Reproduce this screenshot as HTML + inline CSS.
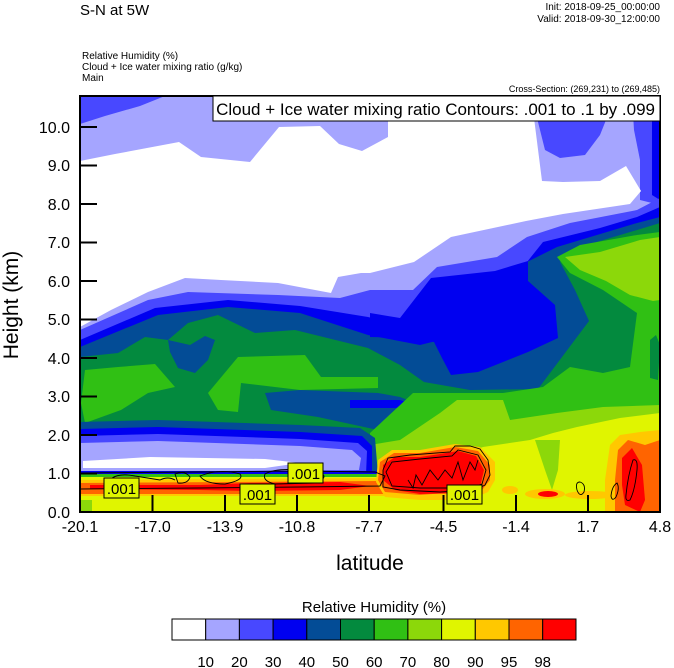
<!DOCTYPE html>
<html><head><meta charset="utf-8"><style>
html,body{margin:0;padding:0;background:#fff}
svg{display:block}
text{font-family:"Liberation Sans",Arial,sans-serif;fill:#000}
</style></head><body>
<svg width="674" height="668" viewBox="0 0 674 668" xmlns="http://www.w3.org/2000/svg">
<defs><clipPath id="pc"><rect x="80" y="96" width="580" height="416"/></clipPath></defs>
<g clip-path="url(#pc)">
<rect x="80" y="96" width="580" height="416" fill="#a5a5ff"/>
<!-- top blue patches -->
<polygon fill="#4848ff" points="80,96 165,96 140,106 105,116 80,124"/>
<polygon fill="#4848ff" points="535,110 610,110 600,135 585,155 560,158 545,150"/>
<polygon fill="#4848ff" points="632,96 660,96 660,205 640,200 640,160 634,130"/>
<polygon fill="#0000f0" points="652,96 660,96 660,200 652,195"/>
<!-- white -->
<polygon fill="#ffffff" points="80,161 115,154 179,142 201,157 250,162 279,127 320,126 339,144 362,151 388,137 388,110 533,110 542,181 563,182 600,181 626,166 641,191 630,204 563,214 526,221 451,237 414,262 370,273 361,273 338,277 331,293 278,283 221,280 185,278 148,292 111,310 80,327"/>
<!-- bands below curves -->
<polygon fill="#4848ff" points="80,330 148,300 188,292 278,295 340,298 370,290 413,290 437,267 497,257 527,237 570,223 637,210 660,198 660,512 80,512"/>
<polygon fill="#0000f0" points="80,340 155,308 228,300 300,306 368,317 400,325 430,320 440,290 495,272 527,262 543,242 600,228 637,217 660,207 660,512 80,512"/>
<polygon fill="#034c96" points="80,347 158,315 228,307 300,313 368,335 420,345 480,330 527,262 557,247 637,223 660,217 660,512 80,512"/>
<polygon fill="#038a3e" points="80,357 118,353 145,337 168,340 188,323 218,315 255,333 295,330 368,348 400,365 424,382 470,390 538,389 589,321 575,290 560,262 570,250 637,230 660,223 660,512 80,512"/>
<!-- dark blue blob -->
<polygon fill="#0000f0" points="370,313 400,318 431,278 495,271 528,261 528,281 555,305 558,338 528,352 478,372 451,375 442,358 434,342 410,338 370,337"/>
<!-- swirl -->
<polygon fill="#034c96" points="168,340 190,345 205,336 215,340 208,360 195,373 178,368 170,352"/>
<!-- greens left -->
<polygon fill="#30c014" points="85,370 118,367 155,364 175,387 148,393 121,410 85,423 81,403"/>
<polygon fill="#30c014" points="208,393 238,357 305,355 321,377 378,377 378,388 300,390 241,383 238,412 218,410"/>
<polygon fill="#034c96" points="265,393 300,390 378,393 400,397 420,405 378,430 318,417 271,410"/>
<polygon fill="#0000f0" points="350,400 400,400 415,405 395,408 350,408"/>
<!-- greens right -->
<polygon fill="#30c014" points="370,433 413,393 503,393 543,387 570,367 603,373 630,367 637,313 603,290 570,273 557,257 580,245 637,235 660,232 660,512 370,512"/>
<polygon fill="#038a3e" points="650,340 656,335 660,345 658,380 650,378"/>
<polygon fill="#8cd80a" points="565,257 600,252 640,240 660,237 660,300 653,301 630,295 606,281 580,270"/>
<polygon fill="#8cd80a" points="370,445 400,440 440,413 457,400 503,400 510,420 557,413 603,407 660,405 660,512 370,512"/>
<polygon fill="#e0f500" points="400,470 440,462 483,447 530,440 553,433 577,427 620,418 660,413 660,512 370,512"/>
<polygon fill="#8cd80a" points="535,440 560,440 558,470 552,490 545,470"/>
<!-- bottom-left tongue stack -->
<polygon fill="#034c96" points="80,422 158,420 300,425 360,428 375,438 378,475 80,475"/>
<polygon fill="#0000f0" points="80,429 158,427 300,432 362,436 372,446 372,475 80,475"/>
<polygon fill="#4848ff" points="80,436 158,434 300,439 358,443 367,451 366,475 80,475"/>
<polygon fill="#a5a5ff" points="80,443 158,441 300,446 352,450 361,458 359,470 80,472"/>
<polygon fill="#ffffff" points="83,461 150,457 265,459 300,463 265,468 83,468"/>
<!-- bottom strips -->
<rect x="80" y="471" width="300" height="4" fill="#0000f0"/>
<rect x="80" y="474" width="310" height="4" fill="#30c014"/>
<polygon fill="#e0f500" points="80,477 390,477 400,512 80,512"/>
<polygon fill="#ffc800" points="80,480 390,478 395,496 80,496"/>
<polygon fill="#ff6400" points="80,483 380,481 385,494 80,494"/>
<polygon fill="#ff0000" points="90,485 200,485 250,483 340,482 370,486 340,490 250,491 200,490 90,489"/>
<rect x="80" y="500" width="12" height="12" fill="#8cd80a"/>
<!-- red blob mid -->
<polygon fill="#ffc800" points="378,460 392,450 420,450 455,444 480,447 495,462 495,480 488,492 470,500 420,500 385,497 376,482"/>
<polygon fill="#ff6400" points="380,462 394,453 420,453 455,447 478,451 490,465 490,480 482,490 420,495 385,492 378,480"/>
<polygon fill="#ff0000" points="383,465 395,457 420,457 440,454 458,451 476,456 484,470 480,487 470,493 420,494 395,490 383,480"/>
<!-- right-bottom warm -->
<ellipse cx="545" cy="494" rx="20" ry="5" fill="#ffc800"/>
<ellipse cx="548" cy="494" rx="10" ry="3" fill="#ff0000"/>
<ellipse cx="590" cy="495" rx="25" ry="4" fill="#ffc800"/>
<ellipse cx="510" cy="490" rx="8" ry="4" fill="#ffc800"/>
<polygon fill="#ffc800" points="610,445 620,435 640,432 660,430 660,512 605,512 605,480"/>
<polygon fill="#ff6400" points="618,450 628,440 645,445 660,440 660,512 615,512 615,480"/>
<polygon fill="#ff0000" points="622,458 632,448 642,465 645,500 640,512 625,505 622,485"/>
<!-- contours -->
<g fill="none" stroke="#000" stroke-width="0.9">
<path d="M80,473 L200,472 L300,471 L375,472 L385,476 L380,486 L300,487 L200,488 L80,489"/>
<path d="M112,478 Q120,473 135,476 L160,480 Q168,476 175,480"/>
<path d="M175,474 Q185,470 190,477 Q188,484 178,483 Z"/>
<path d="M200,476 Q220,468 240,474 Q245,480 225,484 Q205,484 200,476 Z"/>
<path d="M265,474 Q275,468 300,470 L320,472 Q330,478 315,483 L275,484 Q262,481 265,474 Z"/>
<path d="M383,470 L388,458 L410,455 L450,452 L455,446 L470,446 L480,449 L488,460 L490,475 L485,485 L475,490 L440,492 L400,490 L383,487 Z"/>
<path d="M386,472 L392,462 L420,459 L452,456 L458,450 L478,455 L486,470 L482,484 L470,488 L420,488 L392,486 Z"/>
<path d="M408,480 L413,488 L416,475 L422,485 L430,470 L438,480 L445,470 L452,478 L458,462 L463,480 L470,462 L475,470 L478,460"/>
<path d="M577,490 Q575,482 580,482 Q586,484 584,492 Q580,498 577,490 Z"/>
<path d="M611,496 Q612,486 617,483 Q620,488 616,497 Q612,502 611,496 Z"/>
<path d="M626,495 Q628,475 633,460 Q638,458 637,470 Q635,490 630,500 Q625,502 626,495 Z"/>
</g>
<g font-size="15">
<rect x="104" y="478" width="35" height="20" fill="#e0f500" stroke="#000" stroke-width="1"/>
<text x="121.5" y="494" text-anchor="middle">.001</text>
<rect x="240" y="484" width="35" height="20" fill="#e0f500" stroke="#000" stroke-width="1"/>
<text x="257.5" y="500" text-anchor="middle">.001</text>
<rect x="288" y="463" width="35" height="20" fill="#e0f500" stroke="#000" stroke-width="1"/>
<text x="305.5" y="479" text-anchor="middle">.001</text>
<rect x="447" y="485" width="35" height="19" fill="#e0f500" stroke="#000" stroke-width="1"/>
<text x="464.5" y="500" text-anchor="middle">.001</text>
</g>
</g>
<!-- frame -->
<rect x="80" y="96" width="580" height="416" fill="none" stroke="#000" stroke-width="2"/>
<rect x="213" y="96" width="447" height="25" fill="#fff" stroke="#000" stroke-width="1"/>
<text x="655" y="115" font-size="17" text-anchor="end">Cloud + Ice water mixing ratio Contours: .001 to .1 by .099</text>
<!-- y ticks -->
<g stroke="#000" stroke-width="2">
<line x1="80" y1="127" x2="97" y2="127"/><line x1="80" y1="165.5" x2="97" y2="165.5"/><line x1="80" y1="204" x2="97" y2="204"/><line x1="80" y1="242.5" x2="97" y2="242.5"/><line x1="80" y1="281" x2="97" y2="281"/><line x1="80" y1="319.5" x2="97" y2="319.5"/><line x1="80" y1="358" x2="97" y2="358"/><line x1="80" y1="396.5" x2="97" y2="396.5"/><line x1="80" y1="435" x2="97" y2="435"/><line x1="80" y1="473.5" x2="97" y2="473.5"/>
<line x1="152.5" y1="512" x2="152.5" y2="495"/><line x1="225" y1="512" x2="225" y2="495"/><line x1="297" y1="512" x2="297" y2="495"/><line x1="369" y1="512" x2="369" y2="495"/><line x1="443.5" y1="512" x2="443.5" y2="495"/><line x1="516" y1="512" x2="516" y2="495"/><line x1="588" y1="512" x2="588" y2="495"/>
</g>
<g font-size="16" text-anchor="end">
<text x="70" y="133">10.0</text><text x="70" y="171">9.0</text><text x="70" y="210">8.0</text><text x="70" y="248">7.0</text><text x="70" y="287">6.0</text><text x="70" y="325">5.0</text><text x="70" y="364">4.0</text><text x="70" y="402">3.0</text><text x="70" y="441">2.0</text><text x="70" y="479">1.0</text><text x="70" y="518">0.0</text>
</g>
<g font-size="16" text-anchor="middle">
<text x="80" y="532">-20.1</text><text x="152.5" y="532">-17.0</text><text x="225" y="532">-13.9</text><text x="297" y="532">-10.8</text><text x="369" y="532">-7.7</text><text x="443.5" y="532">-4.5</text><text x="516" y="532">-1.4</text><text x="588" y="532">1.7</text><text x="660" y="532">4.8</text>
</g>
<text x="370" y="570" font-size="21" text-anchor="middle">latitude</text>
<text transform="translate(18,305) rotate(-90)" font-size="21" text-anchor="middle">Height (km)</text>
<text x="80" y="15" font-size="15">S-N at 5W</text>
<text x="660" y="10" font-size="10" text-anchor="end">Init: 2018-09-25_00:00:00</text>
<text x="660" y="22" font-size="10" text-anchor="end">Valid: 2018-09-30_12:00:00</text>
<text x="82" y="59" font-size="10">Relative Humidity   (%)</text>
<text x="82" y="70" font-size="10">Cloud + Ice water mixing ratio   (g/kg)</text>
<text x="82" y="81" font-size="10">Main</text>
<text x="660" y="92" font-size="9" text-anchor="end">Cross-Section: (269,231) to (269,485)</text>
<!-- colorbar -->
<text x="374" y="612" font-size="15" text-anchor="middle">Relative Humidity  (%)</text>
<g stroke="#000" stroke-width="1">
<rect x="172" y="619" width="33.7" height="21" fill="#ffffff"/>
<rect x="205.7" y="619" width="33.7" height="21" fill="#a5a5ff"/>
<rect x="239.4" y="619" width="33.7" height="21" fill="#4848ff"/>
<rect x="273.1" y="619" width="33.7" height="21" fill="#0000f0"/>
<rect x="306.8" y="619" width="33.7" height="21" fill="#034c96"/>
<rect x="340.5" y="619" width="33.7" height="21" fill="#038a3e"/>
<rect x="374.2" y="619" width="33.7" height="21" fill="#30c014"/>
<rect x="407.9" y="619" width="33.7" height="21" fill="#8cd80a"/>
<rect x="441.6" y="619" width="33.7" height="21" fill="#e0f500"/>
<rect x="475.3" y="619" width="33.7" height="21" fill="#ffc800"/>
<rect x="509" y="619" width="33.7" height="21" fill="#ff6400"/>
<rect x="542.7" y="619" width="33.3" height="21" fill="#ff0000"/>
</g>
<g font-size="15" text-anchor="middle">
<text x="205.7" y="667">10</text><text x="239.4" y="667">20</text><text x="273.1" y="667">30</text><text x="306.8" y="667">40</text><text x="340.5" y="667">50</text><text x="374.2" y="667">60</text><text x="407.9" y="667">70</text><text x="441.6" y="667">80</text><text x="475.3" y="667">90</text><text x="509" y="667">95</text><text x="542.7" y="667">98</text>
</g>
</svg>
</body></html>
